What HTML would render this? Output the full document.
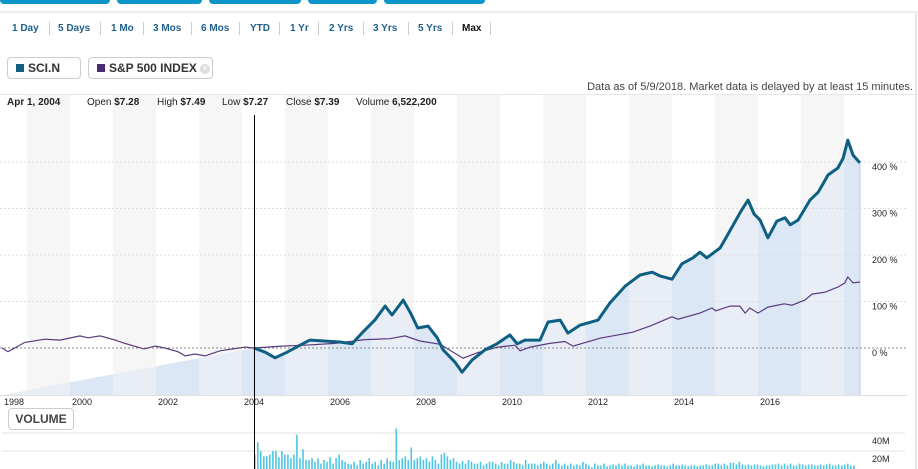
<!DOCTYPE html>
<html><head><meta charset="utf-8"><style>
body{margin:0;width:918px;height:469px;overflow:hidden;background:#fff;font-family:"Liberation Sans",Arial,sans-serif;position:relative}
.tab{position:absolute;top:0;height:4px;background:#0c95c8;border-radius:0 0 4px 4px}
.rng{position:absolute;top:23px;font-size:10px;font-weight:bold;color:#1f5f8b}
.sep{position:absolute;top:22px;width:1px;height:13px;background:#ccc}
.leg{position:absolute;top:57px;height:20px;border:1px solid #ccc;border-radius:4px;font-size:12px;font-weight:bold;color:#333;line-height:20px;background:#fff}
.sw{display:inline-block;width:8px;height:8px;margin:0 4px 0 8px}
.info{position:absolute;top:97px;font-size:10px;color:#222}
.info b{font-weight:bold}
</style></head><body>
<div class="tab" style="left:0;width:110px"></div>
<div class="tab" style="left:117px;width:85px"></div>
<div class="tab" style="left:209px;width:92px"></div>
<div class="tab" style="left:308px;width:69px"></div>
<div class="tab" style="left:384px;width:101px"></div>
<div style="position:absolute;left:0;top:11px;width:918px;height:2px;background:#eee"></div>
<div style="position:absolute;left:915px;top:12px;width:2px;height:457px;background:#e6e6e6"></div>

<span class="rng" style="left:12px">1 Day</span><div class="sep" style="left:49px"></div>
<span class="rng" style="left:58px">5 Days</span><div class="sep" style="left:100px"></div>
<span class="rng" style="left:111px">1 Mo</span><div class="sep" style="left:143px"></div>
<span class="rng" style="left:153px">3 Mos</span><div class="sep" style="left:191px"></div>
<span class="rng" style="left:201px">6 Mos</span><div class="sep" style="left:239px"></div>
<span class="rng" style="left:250px">YTD</span><div class="sep" style="left:279px"></div>
<span class="rng" style="left:290px">1 Yr</span><div class="sep" style="left:318px"></div>
<span class="rng" style="left:329px">2 Yrs</span><div class="sep" style="left:363px"></div>
<span class="rng" style="left:373px">3 Yrs</span><div class="sep" style="left:408px"></div>
<span class="rng" style="left:418px">5 Yrs</span><div class="sep" style="left:452px"></div>
<span class="rng" style="left:462px;color:#111">Max</span><div class="sep" style="left:490px"></div>

<div class="leg" style="left:7px;width:72px"><span class="sw" style="background:#0e5f82"></span>SCI.N</div>
<div class="leg" style="left:88px;width:123px"><span class="sw" style="background:#4a2a6e"></span>S&amp;P 500 INDEX <span style="display:inline-block;width:10px;height:10px;border-radius:5px;background:#ddd;color:#fff;font-size:8px;line-height:10px;text-align:center;vertical-align:middle">×</span></div>
<div style="position:absolute;right:5px;top:81px;font-size:11px;color:#444">Data as of 5/9/2018. Market data is delayed by at least 15 minutes.</div>

<svg id="chart" width="918" height="469" style="position:absolute;left:0;top:0" xmlns="http://www.w3.org/2000/svg"></svg>

<div class="info" style="left:7px"><b>Apr 1, 2004</b></div>
<div class="info" style="left:87px">Open <b>$7.28</b></div>
<div class="info" style="left:157px">High <b>$7.49</b></div>
<div class="info" style="left:222px">Low <b>$7.27</b></div>
<div class="info" style="left:286px">Close <b>$7.39</b></div>
<div class="info" style="left:356px">Volume <b>6,522,200</b></div>
<div style="position:absolute;left:8px;top:408px;width:64px;height:20px;border:1px solid #ccc;border-radius:4px;font-size:12px;font-weight:bold;color:#444;line-height:20px;text-align:center;background:#fff">VOLUME</div>

<script>
const spYears=[1998.14,1998.28,1998.67,1999.14,1999.49,1999.95,2000.14,2000.42,2000.77,2001.0,2001.44,2001.70,2001.93,2002.23,2002.40,2002.63,2002.86,2003.21,2003.79,2004.0,2004.65,2005.19,2005.88,2006.58,2007.16,2007.51,2007.86,2008.33,2008.86,2009.21,2009.67,2010.07,2010.19,2010.42,2010.88,2011.23,2011.42,2012.05,2012.81,2013.21,2013.72,2013.86,2014.37,2014.65,2014.74,2015.07,2015.30,2015.42,2015.53,2015.72,2015.95,2016.33,2016.51,2016.81,2016.98,2017.28,2017.58,2017.74,2017.81,2017.93,2018.09];
const spValues=[0,-8,12,19,17,26,22,26,17,10,-2,4,0,-8,-17,-13,-17,-6,2,0,4,6,10,18,20,26,15,8,-22,-10,2,6,-6,2,10,14,4,21,34,47,67,62,75,86,80,90,90,75,86,75,88,95,92,103,116,120,131,140,153,140,142];
const sciYears=[2004.0,2004.26,2004.49,2004.77,2005.07,2005.30,2006.0,2006.28,2006.51,2006.81,2007.05,2007.21,2007.47,2007.63,2007.81,2008.05,2008.26,2008.40,2008.67,2008.84,2009.07,2009.37,2009.65,2009.95,2010.12,2010.30,2010.65,2010.84,2011.12,2011.30,2011.58,2012.0,2012.28,2012.63,2012.98,2013.26,2013.44,2013.72,2013.95,2014.21,2014.37,2014.53,2014.84,2015.05,2015.33,2015.49,2015.63,2015.77,2015.95,2016.16,2016.35,2016.47,2016.65,2016.93,2017.12,2017.35,2017.58,2017.70,2017.81,2017.93,2018.09];
const sciValues=[0,-9,-21,-9,6,17,13,9,32,60,90,71,103,77,43,47,22,-4,-30,-52,-26,-4,9,28,9,17,17,56,60,32,49,60,97,133,157,163,155,148,181,194,206,194,215,249,295,318,288,275,237,273,280,265,275,318,335,372,387,408,447,415,398];
const yTicks=[0,100,200,300,400];
const yTickLabels=["0 %","100 %","200 %","300 %","400 %"];
const xTickYears=[1998,2000,2002,2004,2006,2008,2010,2012,2014,2016];
const volume=[16,30,20,14,14,16,20,20,13,20,16,16,12,16,38,12,22,10,10,12,8,12,6,10,8,13,6,12,16,10,8,6,5,8,4,10,6,8,12,6,8,4,10,6,12,9,8,45,10,12,14,10,24,10,12,14,10,12,8,14,10,6,16,18,14,10,12,8,6,9,6,10,8,6,6,8,4,6,8,8,6,4,8,6,6,10,8,6,6,4,10,6,6,6,4,6,8,6,4,6,10,6,4,6,4,6,4,5,4,8,6,4,2,6,4,4,6,3,4,5,4,6,4,6,4,4,3,5,4,6,4,4,3,4,5,4,4,3,4,6,4,4,5,4,3,4,4,3,4,4,5,4,4,6,6,4,6,4,7,7,5,8,5,4,5,4,5,5,4,3,4,4,5,5,6,4,6,4,6,4,4,6,5,4,5,5,4,4,5,4,5,6,4,4,5,4,5,6,4,4];
const volStart=2004.0, volEnd=2018.0;

const NS="http://www.w3.org/2000/svg";
const svg=document.getElementById('chart');
const X0=2, X1=860, YTOP=95, YBOT=395;
const xs=y=>254+(y-2004)*43;
const ys=p=>348-p*0.465;
const vs=m=>469-m*0.9;
function mk(tag,attrs,parent){const e=document.createElementNS(NS,tag);for(const k in attrs)e.setAttribute(k,attrs[k]);(parent||svg).appendChild(e);return e;}

// bands
const bandG=mk('g',{});


for(let b=27;b<860;b+=86){const r=mk('rect',{x:b,y:YTOP,width:43,height:YBOT-YTOP,fill:'#f6f6f6'},bandG);

}
// area
let pts=`${X0},${YBOT} `+sciYears.map((y,i)=>`${xs(y).toFixed(1)},${ys(sciValues[i]).toFixed(1)}`).join(' ')+` ${xs(sciYears[sciYears.length-1]).toFixed(1)},${YBOT}`;
const defs=mk('defs',{});
const cp=mk('clipPath',{id:'ac'},defs);mk('polygon',{points:pts},cp);
const area=mk('polygon',{points:pts,fill:'#e9eef6'});


const ab=mk('g',{'clip-path':'url(#ac)'});
for(let b=27-43;b<860;b+=86){if(b<2)continue;mk('rect',{x:b,y:YTOP,width:43,height:YBOT-YTOP,fill:'#dce7f5'},ab);}
mk('line',{x1:X1,x2:X1,y1:ys(sciValues[sciValues.length-1]),y2:YBOT,stroke:'#b8cdea','stroke-width':1});
// grid
yTicks.forEach((t,i)=>{
 const l=mk('line',{x1:0,x2:907,y1:ys(t),y2:ys(t),stroke:t===0?'#888':'#ddd','stroke-width':1,'stroke-dasharray':'2,2'});
 
 
 const tx=mk('text',{x:872,y:ys(t)+8,'font-size':9,fill:'#222','font-family':'Liberation Sans, sans-serif'});
 tx.textContent=yTickLabels[i];
 
 
});
mk('line',{x1:0,x2:918,y1:94.5,y2:94.5,stroke:'#e6e6e6'});
mk('line',{x1:0,x2:907,y1:YBOT+0.5,y2:YBOT+0.5,stroke:'#e0e0e0'});
xTickYears.forEach(y=>{
 const tx=mk('text',{x:Math.max(xs(y),14),y:405,'font-size':9,fill:'#222','text-anchor':'middle','font-family':'Liberation Sans, sans-serif'});
 tx.textContent=String(y);
 
 
});
// lines
const spPath=mk('polyline',{points:spYears.map((y,i)=>`${xs(y).toFixed(1)},${ys(spValues[i]).toFixed(1)}`).join(' '),fill:'none',stroke:'#5a3a7e','stroke-width':1.2});


const sciPath=mk('polyline',{points:sciYears.map((y,i)=>`${xs(y).toFixed(1)},${ys(sciValues[i]).toFixed(1)}`).join(' '),fill:'none',stroke:'#0e5f82','stroke-width':3,'stroke-linejoin':'round'});


// volume panel
[20,40].forEach(m=>{
 const l=mk('line',{x1:2,x2:905,y1:vs(m),y2:vs(m),stroke:'#e3e3e3','stroke-width':1});
 
 
 const tx=mk('text',{x:872,y:vs(m)+11,'font-size':9,fill:'#222','font-family':'Liberation Sans, sans-serif'});
 tx.textContent=m+'M';
 
 
});
const step=(volEnd-volStart)/volume.length;
volume.forEach((v,i)=>{
 const x=xs(volStart+i*step);
 const r=mk('rect',{x:x.toFixed(1),y:vs(v),width:1.6,height:v*0.9,fill:'#4cc6e2'});
 
 
});
// cursor
const cur=mk('line',{x1:254.5,x2:254.5,y1:115,y2:469,stroke:'#000','stroke-width':1});


</script>
</body></html>
